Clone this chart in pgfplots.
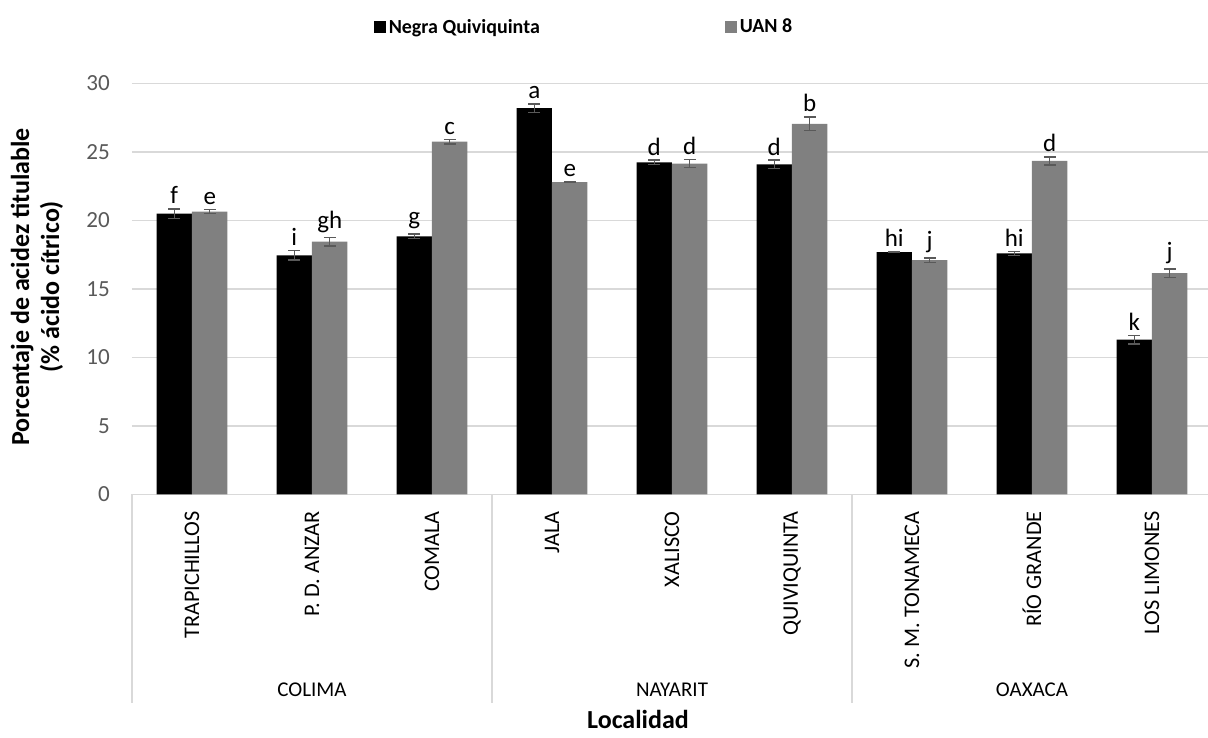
\documentclass[border=0pt]{standalone}
\usepackage{pgfplots}
\usepackage{pgfplotstable}
\pgfplotsset{compat=1.18}
\usepackage{fontspec}
\setmainfont{Carlito}
\definecolor{gridc}{HTML}{D9D9D9}
\definecolor{tickc}{HTML}{595959}
\definecolor{barg}{HTML}{808080}
\newcommand{\fs}{\fontsize{15.75}{19}\selectfont}
\newcommand{\fst}{\fontsize{17.3}{20}\selectfont}
\newcommand{\fsc}{\fontsize{16.7}{20}\selectfont}
\newcommand{\fsl}{\fontsize{18.75}{22}\selectfont}

\pgfplotstableread{
x y err lab
0 20.5 0.35 f
1 17.45 0.35 i
2 18.85 0.15 g
3 28.2 0.3 a
4 24.25 0.15 d
5 24.1 0.3 d
6 17.7 0.05 hi
7 17.6 0.15 hi
8 11.3 0.3 k
}\negra

\pgfplotstableread{
x y err lab
0 20.65 0.15 e
1 18.45 0.3 gh
2 25.75 0.15 c
3 22.8 0.03 e
4 24.15 0.3 d
5 27.05 0.5 b
6 17.1 0.15 j
7 24.35 0.3 d
8 16.15 0.3 j
}\uan

\begin{document}
\begin{tikzpicture}
\useasboundingbox (-99pt,-182.625pt) rectangle (807pt,370.875pt);
\begin{axis}[
  scale only axis,
  width=810pt, height=308.25pt,
  at={(0,0)}, anchor=south west,
  xmin=-0.5, xmax=8.5, ymin=0, ymax=30,
  clip=false,
  ybar=0pt, bar width=26.6pt,
  axis line style={draw=none},
  tick style={draw=none},
  major tick length=0pt,
  ymajorgrids, grid style={gridc, line width=1.1pt},
  ytick={0,5,...,30},
  yticklabel style={font=\fst, color=tickc, inner sep=0pt, xshift=-16.5pt},
  /pgf/number format/assume math mode=true,
  xtick={0,...,8},
  xticklabels={TRAPICHILLOS, P. D. ANZAR, COMALA, JALA, XALISCO, QUIVIQUINTA, S. M. TONAMECA, RÍO GRANDE, LOS LIMONES},
  xticklabel style={font=\fsc, rotate=90, anchor=east, inner sep=0pt},
  xticklabel shift=12.4pt,
  xlabel={Localidad},
  every axis x label/.style={at={(axis description cs:0.4685,0)}, anchor=center, yshift=-169pt, font=\fontsize{19.5}{23}\selectfont\bfseries},
  ylabel={Porcentaje de acidez titulable\\(\% ácido cítrico)},
  every axis y label/.style={at={(axis description cs:-0.088,0.505)}, rotate=90, anchor=center, align=center, font=\fontsize{19.5}{22.5}\selectfont\bfseries},
  legend columns=2,
  legend style={at={(axis description cs:0.419,1.1375)}, anchor=center, draw=none, fill=none, font=\fontsize{15}{18}\selectfont\bfseries,
    /tikz/every even column/.append style={column sep=137pt}},
  legend image code/.code={\fill[#1] (0pt,-4.5pt) rectangle (9pt,4.5pt);},
  error bars/y dir=both,
  error bars/y explicit,
  error bars/error bar style={tickc, line width=1.1pt},
  error bars/error mark options={rotate=90, mark size=4.4pt, tickc, line width=1.1pt},
]
\addplot[fill=black, draw=none, point meta=explicit symbolic,
  nodes near coords,
  visualization depends on={\thisrow{err} \as \myerr},
  every node near coord/.append style={font=\fsl, black, anchor=south, inner sep=3.5pt, yshift={\myerr*10.275pt}}]
  table[x=x, y=y, y error=err, meta=lab] {\negra};
\addplot[fill=barg, draw=none, point meta=explicit symbolic,
  nodes near coords,
  visualization depends on={\thisrow{err} \as \myerr},
  every node near coord/.append style={font=\fsl, black, anchor=south, inner sep=3.5pt, yshift={\myerr*10.275pt}}]
  table[x=x, y=y, y error=err, meta=lab] {\uan};
\legend{Negra Quiviquinta, UAN 8}
\foreach \s in {-0.5,2.5,5.5,8.5} {
  \edef\tmp{\noexpand\draw[gridc, line width=1pt] (axis cs:\s,0) -- ([yshift=-156.4pt]axis cs:\s,0);}
  \tmp
}
\node[font=\fs] at ([yshift=-146.6pt]axis cs:1,0) {COLIMA};
\node[font=\fs] at ([yshift=-146.6pt]axis cs:4,0) {NAYARIT};
\node[font=\fs] at ([yshift=-146.6pt]axis cs:7,0) {OAXACA};
\end{axis}
\end{tikzpicture}
\end{document}
